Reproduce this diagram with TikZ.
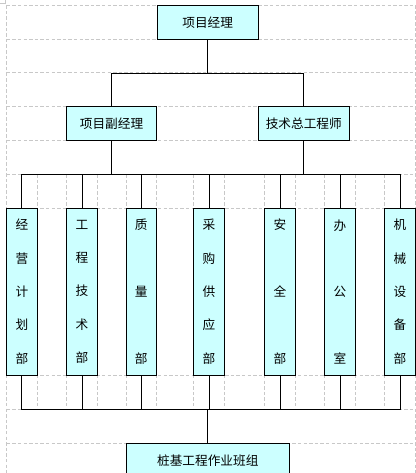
\documentclass[tikz,border=0pt]{standalone}
\usepackage{fontspec}
\setmainfont{Noto Sans CJK SC}
\usepackage{tikz}
\usetikzlibrary{calc}

\definecolor{boxfill}{RGB}{204,255,255}
\definecolor{gridgray}{RGB}{200,200,200}

\tikzset{
	box/.style={draw, fill=boxfill, line width=0.8pt, inner sep=0pt,
		minimum height=25.5pt, font=\fontsize{9.5}{11}\selectfont},
	dept/.style={box, minimum width=22.9pt, minimum height=125pt, align=center,
		font=\fontsize{9.5}{25}\selectfont},
	deptwide/.style={dept, font=\fontsize{9.5}{50}\selectfont},
	link/.style={draw, line width=0.75pt},
	gridline/.style={draw=gridgray, line width=0.75pt, dash pattern=on 2.6pt off 1.6pt}
}

\begin{document}
\begin{tikzpicture}[x=0.75pt, y=-0.75pt]
			\useasboundingbox (0, 0) rectangle (416, 473);
			\clip (0, 0) rectangle (416, 473);
			
			% sheet grid
			\foreach \y in {5.3, 39.3, 73, 107, 140.3, 174.3, 208.3, 375, 409.3, 443.3}
				\draw[gridline] (6.7, \y) -- (415.3, \y);
			\draw[gridline] (6.7, 5.3) -- (6.7, 473);
			\draw[gridline] (415.3, 5.3) -- (415.3, 473);
			\foreach \x in {37, 66.7, 97.3, 126.3, 156.3, 193.7, 224.3, 264.7, 295.3, 324.7, 355.3, 384.7} {
				\draw[gridline] (\x, 174.3) -- (\x, 208.3);
				\draw[gridline] (\x, 375) -- (\x, 409.3);
			}
			\draw[gridgray, line width=0.75pt] (0, 4) -- (5.7, 4) -- (5.7, 0);
			
			\node[box, minimum width=75.75pt] (jingli) at (207.7, 22.3) {项目经理};
			\node[box, minimum width=67.2pt] (fujingli) at (111.5, 123.7) {项目副经理};
			\node[box, minimum width=68.25pt] (zonggong) at (303.8, 123.7) {技术总工程师};
			
			\node[dept] (jingying) at (21.85, 291.7) {经\\营\\计\\划\\部};
			\node[dept] (gongcheng) at (82, 291.7) {工\\程\\技\\术\\部};
			\node[deptwide] (zhiliang) at (141.3, 291.7) {质\\量\\部};
			\node[dept] (caigou) at (209, 291.7) {采\\购\\供\\应\\部};
			\node[deptwide] (anquan) at (280, 291.7) {安\\全\\部};
			\node[deptwide] (bangong) at (340, 291.7) {办\\公\\室};
			\node[dept] (jixie) at (400, 291.7) {机\\械\\设\\备\\部};
			
			\node[box, minimum width=122.25pt] (banzu) at (207.8, 460.3) {桩基工程作业班组};
			
			\coordinate (midbus) at (0, 174.3);
			\coordinate (lowbus) at (0, 409.3);
			
			\draw[link] (jingli.south) -- ++(0, 33.7) coordinate (topbus);
			\draw[link] (fujingli.north) |- (topbus) -| (zonggong.north);
			
			\draw[link] (fujingli.south) -- (fujingli.south |- midbus);
			\draw[link] (zonggong.south) -- (zonggong.south |- midbus);
			\draw[link] (jingying.north) |- (jixie.north |- midbus) -- (jixie.north);
			\foreach \n in {gongcheng, zhiliang, caigou, anquan, bangong}
				\draw[link] (\n.north) -- (\n.north |- midbus);
			
			\draw[link] (jingying.south) |- (jixie.south |- lowbus) -- (jixie.south);
			\foreach \n in {gongcheng, zhiliang, caigou, anquan, bangong}
				\draw[link] (\n.south) -- (\n.south |- lowbus);
			\draw[link] (banzu.north |- lowbus) -- (banzu.north);
			
		\end{tikzpicture}
\end{document}
